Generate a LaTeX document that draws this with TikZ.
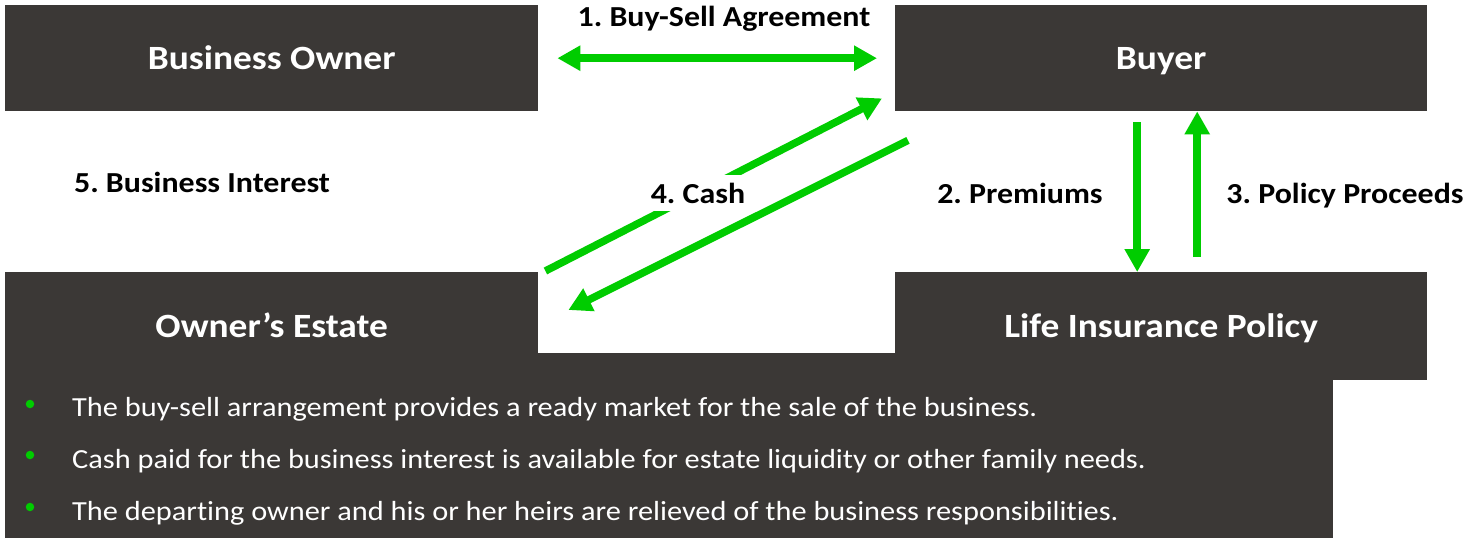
\documentclass[tikz,border=0pt]{standalone}
\usepackage{fontspec}
\setmainfont{Carlito}[FakeStretch=1.1, Ligatures=NoCommon]
\usetikzlibrary{arrows.meta,calc}
\definecolor{boxgray}{RGB}{59,56,54}
\definecolor{arrowgreen}{RGB}{0,204,0}
\frenchspacing
\begin{document}
\begin{tikzpicture}[x=1pt,y=-1pt,
  panel/.style={fill=boxgray, draw=none, inner sep=0pt, anchor=north west},
  title/.style={text=white, font=\fontsize{34}{40}\selectfont\bfseries, text height=28pt, text depth=6pt},
  lbl/.style={text=black, font=\fontsize{29}{34}\selectfont\bfseries, inner sep=0pt, anchor=base},
  flow/.style={draw=arrowgreen, line width=7.5pt, -{Triangle[length=23pt,width=24pt]}},
  twoway/.style={draw=arrowgreen, line width=7.5pt, {Triangle[length=23pt,width=24pt]}-{Triangle[length=23pt,width=24pt]}},
  bullettext/.style={text=white, anchor=base west, inner sep=0pt, font=\fontsize{27.6}{33}\selectfont},
  gdot/.style={circle, fill=arrowgreen, inner sep=0pt, minimum size=8.5pt}
]
\useasboundingbox[fill=white] (0,0) rectangle (1484,538);

% panels
\node[panel, minimum width=1328pt, minimum height=185pt] (notes) at (5,353) {};
\node[panel, title, minimum width=533pt, minimum height=106pt] (bo) at (5,5) {Business Owner};
\node[panel, title, minimum width=532pt, minimum height=106pt] (buyer) at (895,5) {Buyer};
\node[panel, title, minimum width=533pt, minimum height=108pt] (oe) at (5,272) {Owner’s Estate};
\node[panel, title, minimum width=532pt, minimum height=108pt] (lip) at (895,272) {Life Insurance Policy};

% labels
\node[lbl] (l1) at (724,27) {1. Buy-Sell Agreement};
\node[lbl] (l5) at (202,192) {5. Business Interest};
\node[lbl] (l2) at (1020,203) {2. Premiums};
\node[lbl] (l3) at (1345,203) {3. Policy Proceeds};

% arrows
\draw[twoway] ($(bo.east)+(19,0)$) -- ($(buyer.west)+(-18,0)$);
\draw[flow] ($(buyer.south)+(-24,11)$) -- ($(lip.north)+(-24,0)$);
\draw[flow] ($(lip.north)+(36,-15)$) -- ($(buyer.south)+(36,0)$);
\draw[flow] ($(oe.north east)+(7,-1)$) -- ($(buyer.south west)+(-13,-13)$);
\node[lbl, fill=white, inner sep=8pt] (l4) at (698,203) {4. Cash};
\draw[flow] ($(buyer.south west)+(13,29)$) -- ($(oe.north east)+(30,38)$);

% bullets
\node[gdot] (d1) at (30,404) {};
\node[gdot] (d2) at (30,455) {};
\node[gdot] (d3) at (30,507) {};
\node[bullettext] (t1) at (72,416) {The buy-sell arrangement provides a ready market for the sale of the business.};
\node[bullettext] (t2) at (72,468) {Cash paid for the business interest is available for estate liquidity or other family needs.};
\node[bullettext] (t3) at (72,520) {The departing owner and his or her heirs are relieved of the business responsibilities.};
\end{tikzpicture}
\end{document}
